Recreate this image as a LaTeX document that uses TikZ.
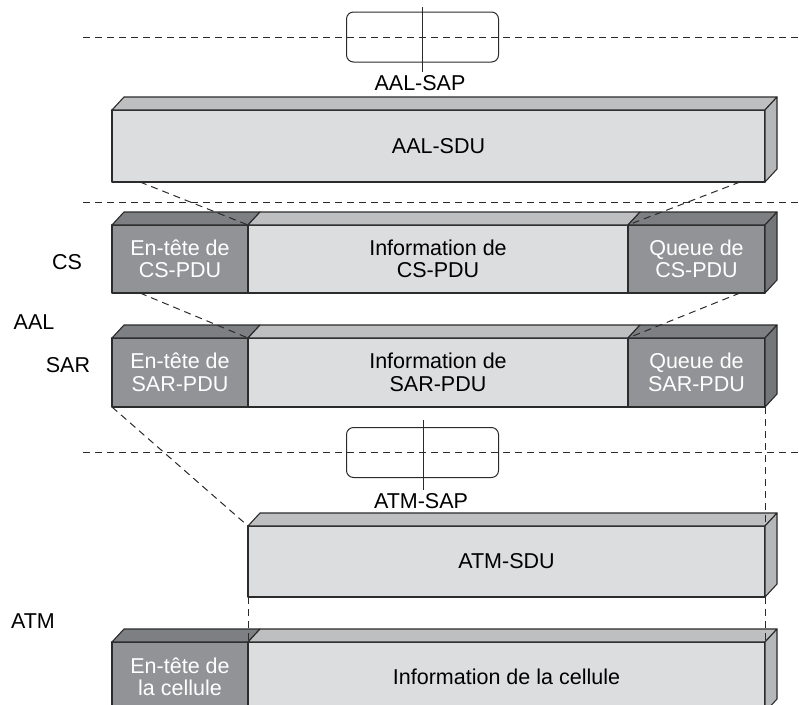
\documentclass[tikz,border=0pt]{standalone}
\usepackage{fontspec}
\setmainfont{Liberation Sans}
\usetikzlibrary{calc}
\definecolor{cline}{HTML}{2B2B2B}
\definecolor{lfront}{HTML}{DCDDDF}
\definecolor{ltop}{HTML}{BEBFC1}
\definecolor{lside}{HTML}{B6B7B9}
\definecolor{dfront}{HTML}{929396}
\definecolor{dtop}{HTML}{7E7F82}
\definecolor{dside}{HTML}{75767A}
\tikzset{
  every picture/.style={line width=1.1pt},
  face/.style={draw=cline, line width=1.1pt, line join=round},
  slab/.style={face, fill=#1, anchor=north west, inner sep=0pt, outer sep=0pt, align=center},
  light/.style={slab=lfront, text=black},
  dark/.style={slab=dfront, text=white},
  sap/.style={draw=cline, line width=1pt, rounded corners=7pt, minimum width=152, minimum height=50},
  guide/.style={draw=cline, dash pattern=on 7pt off 5pt, line width=1pt},
}
% top and side faces of a slab
\newcommand{\topface}[2]{%
  \draw[face, fill=#2] (#1.north west) -- ++(12,-13) -- ([shift={(12,-13)}]#1.north east) -- (#1.north east) -- cycle;}
\newcommand{\sideface}[2]{%
  \draw[face, fill=#2] (#1.north east) -- ++(12,-13) -- ([shift={(12,-13)}]#1.south east) -- (#1.south east) -- cycle;}

\begin{document}
\begin{tikzpicture}[x=1pt, y=-1pt, every node/.append style={font=\fontsize{21.5}{22.5}\selectfont}]
  \clip (0,0) rectangle (799,704);

  % layer boundaries
  \coordinate (b1a) at (83,37);  \coordinate (b1b) at (799,37);
  \coordinate (b2a) at (83,202); \coordinate (b2b) at (799,202);
  \coordinate (b3a) at (83,452); \coordinate (b3b) at (799,452);
  \draw[guide] (b1a) -- (b1b);
  \draw[guide] (b2a) -- (b2b);
  \draw[guide] (b3a) -- (b3b);

  % service access points
  \node[sap] (aalsap) at (422.5,37) {};
  \node (aallbl) at (420,83) {AAL-SAP};
  \coordinate (aaltop) at (422,7);
  \coordinate (aalbot) at (422,72);
  \draw[cline, line width=1pt] (aaltop) -- (aalbot);
  \node[sap] (atmsap) at (422.5,452.5) {};
  \node (atmlbl) at (421,501) {ATM-SAP};
  \coordinate (atmtop) at (423,420);
  \coordinate (atmbot) at (423,490);
  \draw[cline, line width=1pt] (atmtop) -- (atmbot);

  % layer names
  \node (cs) at (67,262) {CS};
  \node (aal) at (34,322) {AAL};
  \node (sar) at (68,365) {SAR};
  \node (atm) at (33,621) {ATM};

  % AAL-SDU
  \node[light, minimum width=653, minimum height=72] (sdu) at (112,110) {AAL-SDU};
  \topface{sdu}{ltop} \sideface{sdu}{lside}

  % CS-PDU
  \node[dark, minimum width=136, minimum height=68] (cshd) at (112,225) {En-tête de\\CS-PDU};
  \node[light, minimum width=380, minimum height=68] (csinfo) at (248,225) {Information de\\CS-PDU};
  \node[dark, minimum width=137, minimum height=68] (cstl) at (628,225) {Queue de\\CS-PDU};
  \topface{cshd}{dtop} \topface{csinfo}{ltop} \topface{cstl}{dtop} \sideface{cstl}{dside}

  % SAR-PDU
  \node[dark, minimum width=136, minimum height=69] (sarhd) at (112,338) {En-tête de\\SAR-PDU};
  \node[light, minimum width=380, minimum height=69] (sarinfo) at (248,338) {Information de\\SAR-PDU};
  \node[dark, minimum width=137, minimum height=69] (sartl) at (628,338) {Queue de\\SAR-PDU};
  \topface{sarhd}{dtop} \topface{sarinfo}{ltop} \topface{sartl}{dtop} \sideface{sartl}{dside}

  % ATM-SDU
  \node[light, minimum width=517, minimum height=71] (atmsdu) at (248,526) {ATM-SDU};
  \topface{atmsdu}{ltop} \sideface{atmsdu}{lside}

  % cell
  \node[dark, minimum width=136, minimum height=70] (cellhd) at (112,642) {En-tête de\\la cellule};
  \node[light, minimum width=517, minimum height=70] (cellinfo) at (248,642) {Information de la cellule};
  \topface{cellhd}{dtop} \topface{cellinfo}{ltop} \sideface{cellinfo}{lside}

  % mapping lines
  \draw[guide] ([xshift=28]sdu.south west) -- (cshd.north east);
  \draw[guide] ([xshift=-25]sdu.south east) -- (cstl.north west);
  \draw[guide] ([xshift=28]cshd.south west) -- (sarhd.north east);
  \draw[guide] ([xshift=-25]cstl.south east) -- (sartl.north west);
  \draw[guide] (sarhd.south west) -- (atmsdu.north west);
  \draw[guide] (sartl.south east) -- (atmsdu.north east);
  \draw[guide] (atmsdu.south west) -- (cellhd.north east);
  \draw[guide] (atmsdu.south east) -- (cellinfo.north east);
\end{tikzpicture}
\end{document}
